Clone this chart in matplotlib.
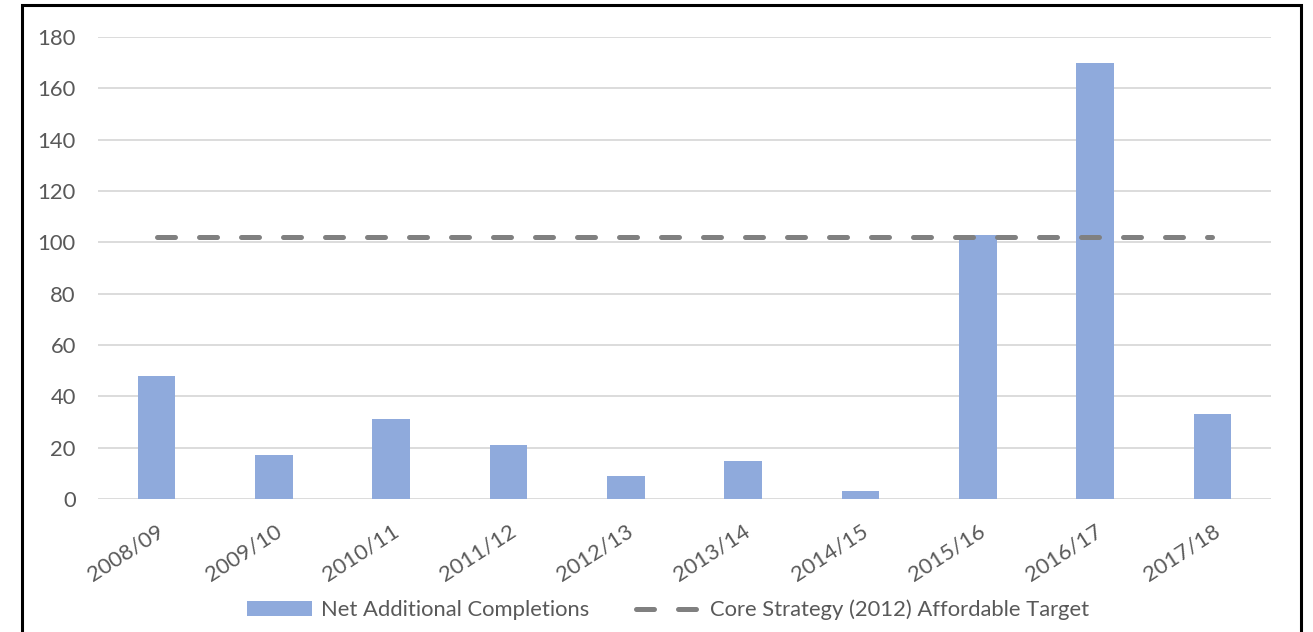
import numpy as np
import matplotlib
matplotlib.use('Agg')
import matplotlib.pyplot as plt
from matplotlib.patches import Rectangle, Patch
from matplotlib.lines import Line2D

years = ['2008/09', '2009/10', '2010/11', '2011/12', '2012/13',
         '2013/14', '2014/15', '2015/16', '2016/17', '2017/18']
completions = [48, 17, 31, 21, 9, 15, 3, 103, 170, 33]
target = [102] * len(years)
yticks = [0, 20, 40, 60, 80, 100, 120, 140, 160, 180]

bar_col = '#8FAADC'
line_col = '#808080'
txt_col = '#595959'

plt.rcParams['font.family'] = ['Lato', 'DejaVu Sans']

fig = plt.figure(figsize=(13.13, 6.32), dpi=100)
ax = fig.add_axes([98/1313, 1-499/632, (1271-98)/1313, (499-37)/632])

x = np.arange(len(years))
ax.bar(x, completions, width=0.32, color=bar_col, zorder=2)
ax.plot(x, target, color=line_col, lw=3.6, dashes=(3.6, 4.8),
        solid_capstyle='round', dash_capstyle='round', zorder=3)

ax.set_xlim(-0.5, len(years) - 0.5)
ax.set_ylim(0, 180)
ax.set_yticks(yticks)
ax.yaxis.grid(True, color='#D9D9D9', lw=1.3, zorder=0)
ax.set_axisbelow(True)
for s in ax.spines.values():
    s.set_visible(False)
ax.tick_params(axis='both', length=0, labelsize=15.8, labelcolor=txt_col)
ax.tick_params(axis='y', pad=16)
ax.set_xticks(x)
ax.set_xticklabels(years, rotation=33, ha='right', va='top',
                   rotation_mode='anchor')
ax.tick_params(axis='x', pad=16)

handles = [Patch(facecolor=bar_col, edgecolor='none'),
           Line2D([0], [0], color=line_col, lw=3.6, dashes=(3.6, 4.8),
                  dash_capstyle='round')]
fig.legend(handles, ['Net Additional Completions',
                     'Core Strategy (2012) Affordable Target'],
           loc='center', bbox_to_anchor=(668/1313, 1-610/632), ncol=2,
           frameon=False, fontsize=15.8, labelcolor=txt_col,
           handlelength=3.0, handleheight=0.65, handletextpad=0.4,
           columnspacing=2.1)

fig.patches.append(Rectangle((22/1313, -0.1), (1301-22)/1313, 1.1-5/632,
                             transform=fig.transFigure, fill=False,
                             ec='black', lw=2.2))

fig.savefig('out.png', dpi=100)
